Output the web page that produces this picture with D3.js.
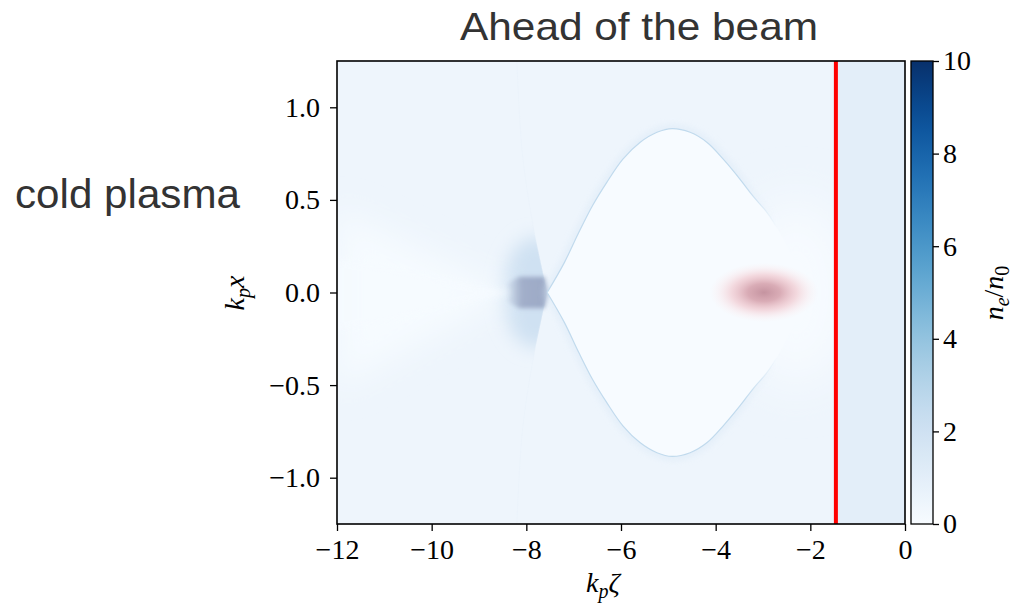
<!DOCTYPE html>
<html>
<head>
<meta charset="utf-8">
<script src="https://cdn.jsdelivr.net/npm/d3@7"></script>
<style>
body { margin: 0; background: #fff; }
</style>
</head>
<body>
<svg id="chart" width="1012" height="609"></svg>
<script>
// ticks
const zetaTicks = [-12, -10, -8, -6, -4, -2, 0];
const xTicks = [-1.0, -0.5, 0.0, 0.5, 1.0];
const cbarTicks = [0, 2, 4, 6, 8, 10];

// upper sheath of the bubble (k_p zeta, k_p x); lower half is its mirror
const sheathZeta = [-7.56, -7.20, -6.90, -6.60, -6.30, -5.96, -5.60, -5.24, -4.92, -4.54, -4.18, -3.84, -3.48, -3.21, -2.91, -2.64, -2.42, -2.20, -2.02];
const sheathX    = [0.0, 0.16, 0.32, 0.47, 0.595, 0.72, 0.81, 0.865, 0.885, 0.865, 0.81, 0.72, 0.61, 0.52, 0.43, 0.32, 0.21, 0.10, 0.0];

// faint edge of the halo behind the bubble (upper half)
const wedgeZeta = [-7.56, -7.82, -8.08, -8.20];
const wedgeX    = [0.0, 0.31, 0.74, 1.25];

// white streaks left of the density spike
const fanZeta = [-8.30, -12.0, -12.0];
const fanX    = [0.0, 0.45, -0.52];

// density spike at the back of the bubble
const spikeZeta = [-8.40, -8.15, -7.62, -7.52, -7.62, -8.15, -8.40];
const spikeX    = [0.05, 0.085, 0.085, 0.0, -0.085, -0.085, -0.05];

// densities n_e/n_0 of the regions
const nBackground = 0.45;
const nBubble = 0.0;
const nAhead = 1.0;
const nHalo = 2.0;
const nSheath = 2.6;
const nFan = 0.03;

// drive beam and laser front
const beamZeta = -2.98, beamX = 0.0, beamHalfZeta = 1.15, beamHalfX = 0.16;
const laserZeta = -1.46;

const svg = d3.select("#chart");
const defs = svg.append("defs");

const xScale = d3.scaleLinear().domain([-12, 0]).range([337, 905]);
const yScale = d3.scaleLinear().domain([-1.25, 1.25]).range([524, 61]);
const color = d3.scaleSequential(d3.interpolateBlues).domain([0, 10]);

const serif = "'Liberation Serif', 'DejaVu Serif', serif";
const sans = "'Liberation Sans', Arial, sans-serif";

defs.append("clipPath").attr("id", "plotClip")
  .append("rect")
  .attr("x", xScale(-12)).attr("y", yScale(1.25))
  .attr("width", xScale(0) - xScale(-12)).attr("height", yScale(-1.25) - yScale(1.25));

function blur(id, s) {
  defs.append("filter").attr("id", id)
    .attr("x", "-50%").attr("y", "-50%").attr("width", "200%").attr("height", "200%")
    .append("feGaussianBlur").attr("stdDeviation", s);
}
blur("b2", 2.2);
blur("b3", 3);
blur("b8", 9);
blur("b15", 16);
blur("b25", 24);

const pts = (zs, xs) => zs.map((z, i) => [xScale(z), yScale(xs[i])]);
const line = d3.line();
const smooth = d3.line().curve(d3.curveCatmullRom.alpha(0.5));

// wedge clip: everything left of the halo edge
const wedgeUp = pts(wedgeZeta, wedgeX);
const wedgeDown = pts(wedgeZeta, wedgeX.map(v => -v));
defs.append("clipPath").attr("id", "haloClip")
  .append("path")
  .attr("d", line([[xScale(-12), yScale(1.25)]].concat(wedgeUp.slice().reverse(), wedgeDown.slice(1), [[xScale(-12), yScale(-1.25)]])) + "Z");

const field = svg.append("g").attr("clip-path", "url(#plotClip)");

field.append("rect")
  .attr("x", xScale(-12)).attr("y", yScale(1.25))
  .attr("width", xScale(0) - xScale(-12)).attr("height", yScale(-1.25) - yScale(1.25))
  .attr("fill", color(nBackground));

// halo around the spike
field.append("g").attr("clip-path", "url(#haloClip)")
  .append("ellipse")
  .attr("cx", xScale(-7.8)).attr("cy", yScale(0))
  .attr("rx", xScale(-7.1) - xScale(-7.8)).attr("ry", yScale(0) - yScale(0.3))
  .attr("fill", color(nHalo))
  .attr("filter", "url(#b8)");

field.append("path")
  .attr("d", smooth(wedgeUp))
  .attr("fill", "none").attr("stroke", color(1.0)).attr("stroke-width", 1).attr("opacity", 0.3);
field.append("path")
  .attr("d", smooth(wedgeDown))
  .attr("fill", "none").attr("stroke", color(1.0)).attr("stroke-width", 1).attr("opacity", 0.3);

// spike core
const spikeGrad = defs.append("linearGradient").attr("id", "spikeGrad")
  .attr("gradientUnits", "userSpaceOnUse")
  .attr("x1", xScale(-8.45)).attr("x2", xScale(-8.1)).attr("y1", 0).attr("y2", 0);
spikeGrad.append("stop").attr("offset", 0).attr("stop-color", "#9eabc7").attr("stop-opacity", 0);
spikeGrad.append("stop").attr("offset", 1).attr("stop-color", "#9eabc7").attr("stop-opacity", 1);
field.append("path")
  .attr("d", line(pts(spikeZeta, spikeX)) + "Z")
  .attr("fill", "url(#spikeGrad)")
  .attr("filter", "url(#b2)");

// white streaks behind the spike
field.append("path")
  .attr("d", line(pts(fanZeta, fanX)) + "Z")
  .attr("fill", color(nFan))
  .attr("filter", "url(#b15)");
field.append("path")
  .attr("d", line(pts(fanZeta, fanX.map(v => v * 0.4))) + "Z")
  .attr("fill", color(nFan))
  .attr("opacity", 0.8)
  .attr("filter", "url(#b3)");

// lighter zone in front of the bubble
field.append("ellipse")
  .attr("cx", xScale(-2.3)).attr("cy", yScale(0))
  .attr("rx", xScale(-1.1) - xScale(-2.3)).attr("ry", yScale(0) - yScale(0.5))
  .attr("fill", color(0))
  .attr("filter", "url(#b25)");

// bubble
const upper = pts(sheathZeta, sheathX);
const lower = pts(sheathZeta, sheathX.map(v => -v)).slice(0, -1).reverse();
const bubblePath = smooth(upper.concat(lower));

const fade = defs.append("linearGradient").attr("id", "sheathFade")
  .attr("gradientUnits", "userSpaceOnUse")
  .attr("x1", xScale(-3.4)).attr("x2", xScale(-2.7)).attr("y1", 0).attr("y2", 0);
fade.append("stop").attr("offset", 0).attr("stop-color", color(nSheath)).attr("stop-opacity", 1);
fade.append("stop").attr("offset", 1).attr("stop-color", color(nSheath)).attr("stop-opacity", 0);

const fadeGlow = defs.append("linearGradient").attr("id", "glowFade")
  .attr("gradientUnits", "userSpaceOnUse")
  .attr("x1", xScale(-3.6)).attr("x2", xScale(-2.7)).attr("y1", 0).attr("y2", 0);
fadeGlow.append("stop").attr("offset", 0).attr("stop-color", color(1.3)).attr("stop-opacity", 1);
fadeGlow.append("stop").attr("offset", 1).attr("stop-color", color(1.3)).attr("stop-opacity", 0);

field.append("path")
  .attr("d", bubblePath)
  .attr("fill", "none").attr("stroke", "url(#glowFade)").attr("stroke-width", 9)
  .attr("opacity", 0.55)
  .attr("filter", "url(#b3)");
field.append("path")
  .attr("d", bubblePath)
  .attr("fill", color(nBubble));
field.append("path")
  .attr("d", bubblePath)
  .attr("fill", "none").attr("stroke", "url(#sheathFade)").attr("stroke-width", 1.2);

// drive beam
const beamGrad = defs.append("radialGradient").attr("id", "beamGrad");
[[0, "#c28e9b", 0.95], [0.3, "#d49ea9", 0.85], [0.6, "#efbcc3", 0.55], [0.85, "#fbd9dc", 0.2], [1, "#fde6e6", 0]]
  .forEach(s => beamGrad.append("stop").attr("offset", s[0]).attr("stop-color", s[1]).attr("stop-opacity", s[2]));
field.append("ellipse")
  .attr("cx", xScale(beamZeta)).attr("cy", yScale(beamX))
  .attr("rx", xScale(beamZeta + beamHalfZeta) - xScale(beamZeta))
  .attr("ry", yScale(0) - yScale(beamHalfX))
  .attr("fill", "url(#beamGrad)");

// unperturbed plasma ahead of the laser
field.append("rect")
  .attr("x", xScale(laserZeta)).attr("y", yScale(1.25))
  .attr("width", xScale(0) - xScale(laserZeta)).attr("height", yScale(-1.25) - yScale(1.25))
  .attr("fill", color(nAhead));

field.append("line")
  .attr("x1", xScale(laserZeta)).attr("x2", xScale(laserZeta))
  .attr("y1", yScale(1.25)).attr("y2", yScale(-1.25))
  .attr("stroke", "#ff0000").attr("stroke-width", 4);

// frame
svg.append("rect")
  .attr("x", xScale(-12)).attr("y", yScale(1.25))
  .attr("width", xScale(0) - xScale(-12)).attr("height", yScale(-1.25) - yScale(1.25))
  .attr("fill", "none").attr("stroke", "#000").attr("stroke-width", 1.6);

// axes
function styleAxis(g) {
  g.select(".domain").remove();
  g.selectAll(".tick line").attr("stroke", "#000").attr("stroke-width", 1.3);
  g.selectAll(".tick text").attr("font-family", serif).attr("font-size", 28).attr("fill", "#000");
}
svg.append("g")
  .attr("transform", `translate(0,${yScale(-1.25)})`)
  .call(d3.axisBottom(xScale).tickValues(zetaTicks).tickSize(7).tickPadding(8).tickFormat(d3.format("d")))
  .call(styleAxis);
svg.append("g")
  .attr("transform", `translate(${xScale(-12)},0)`)
  .call(d3.axisLeft(yScale).tickValues(xTicks).tickSize(7).tickPadding(10).tickFormat(d3.format(".1f")))
  .call(styleAxis);

// colorbar
const cbX = 911, cbW = 22;
const cbScale = d3.scaleLinear().domain([0, 10]).range([524, 61]);
const cbGrad = defs.append("linearGradient").attr("id", "cbGrad")
  .attr("x1", 0).attr("x2", 0).attr("y1", 1).attr("y2", 0);
d3.range(0, 10.01, 0.5).forEach(v =>
  cbGrad.append("stop").attr("offset", v / 10).attr("stop-color", color(v)));
svg.append("rect")
  .attr("x", cbX).attr("y", cbScale(10))
  .attr("width", cbW).attr("height", cbScale(0) - cbScale(10))
  .attr("fill", "url(#cbGrad)")
  .attr("stroke", "#000").attr("stroke-width", 1.3);
svg.append("g")
  .attr("transform", `translate(${cbX + cbW},0)`)
  .call(d3.axisRight(cbScale).tickValues(cbarTicks).tickSize(6).tickPadding(4).tickFormat(d3.format("d")))
  .call(styleAxis);

// axis labels
const xl = svg.append("text")
  .attr("x", 603).attr("y", 592)
  .attr("text-anchor", "middle")
  .attr("font-family", serif).attr("font-style", "italic").attr("font-size", 28);
xl.append("tspan").text("k");
xl.append("tspan").attr("font-size", 20).attr("dy", 6).text("p");
xl.append("tspan").attr("dy", -6).text("ζ");

const yl = svg.append("text")
  .attr("transform", "translate(244,293) rotate(-90)")
  .attr("text-anchor", "middle")
  .attr("font-family", serif).attr("font-style", "italic").attr("font-size", 28);
yl.append("tspan").text("k");
yl.append("tspan").attr("font-size", 20).attr("dy", 6).text("p");
yl.append("tspan").attr("dy", -6).text("x");

const cl = svg.append("text")
  .attr("transform", "translate(1003,293) rotate(-90)")
  .attr("text-anchor", "middle")
  .attr("font-family", serif).attr("font-style", "italic").attr("font-size", 28);
cl.append("tspan").text("n");
cl.append("tspan").attr("font-size", 20).attr("dy", 6).text("e");
cl.append("tspan").attr("dy", -6).attr("font-style", "normal").text("/");
cl.append("tspan").text("n");
cl.append("tspan").attr("font-size", 20).attr("dy", 6).attr("font-style", "normal").text("0");

// titles
svg.append("text")
  .attr("x", 460).attr("y", 40)
  .attr("font-family", sans).attr("font-size", 39).attr("fill", "#333")
  .attr("textLength", 358).attr("lengthAdjust", "spacingAndGlyphs")
  .text("Ahead of the beam");
svg.append("text")
  .attr("x", 15).attr("y", 208)
  .attr("font-family", sans).attr("font-size", 40).attr("fill", "#333")
  .attr("textLength", 225).attr("lengthAdjust", "spacingAndGlyphs")
  .text("cold plasma");
</script>
</body>
</html>
